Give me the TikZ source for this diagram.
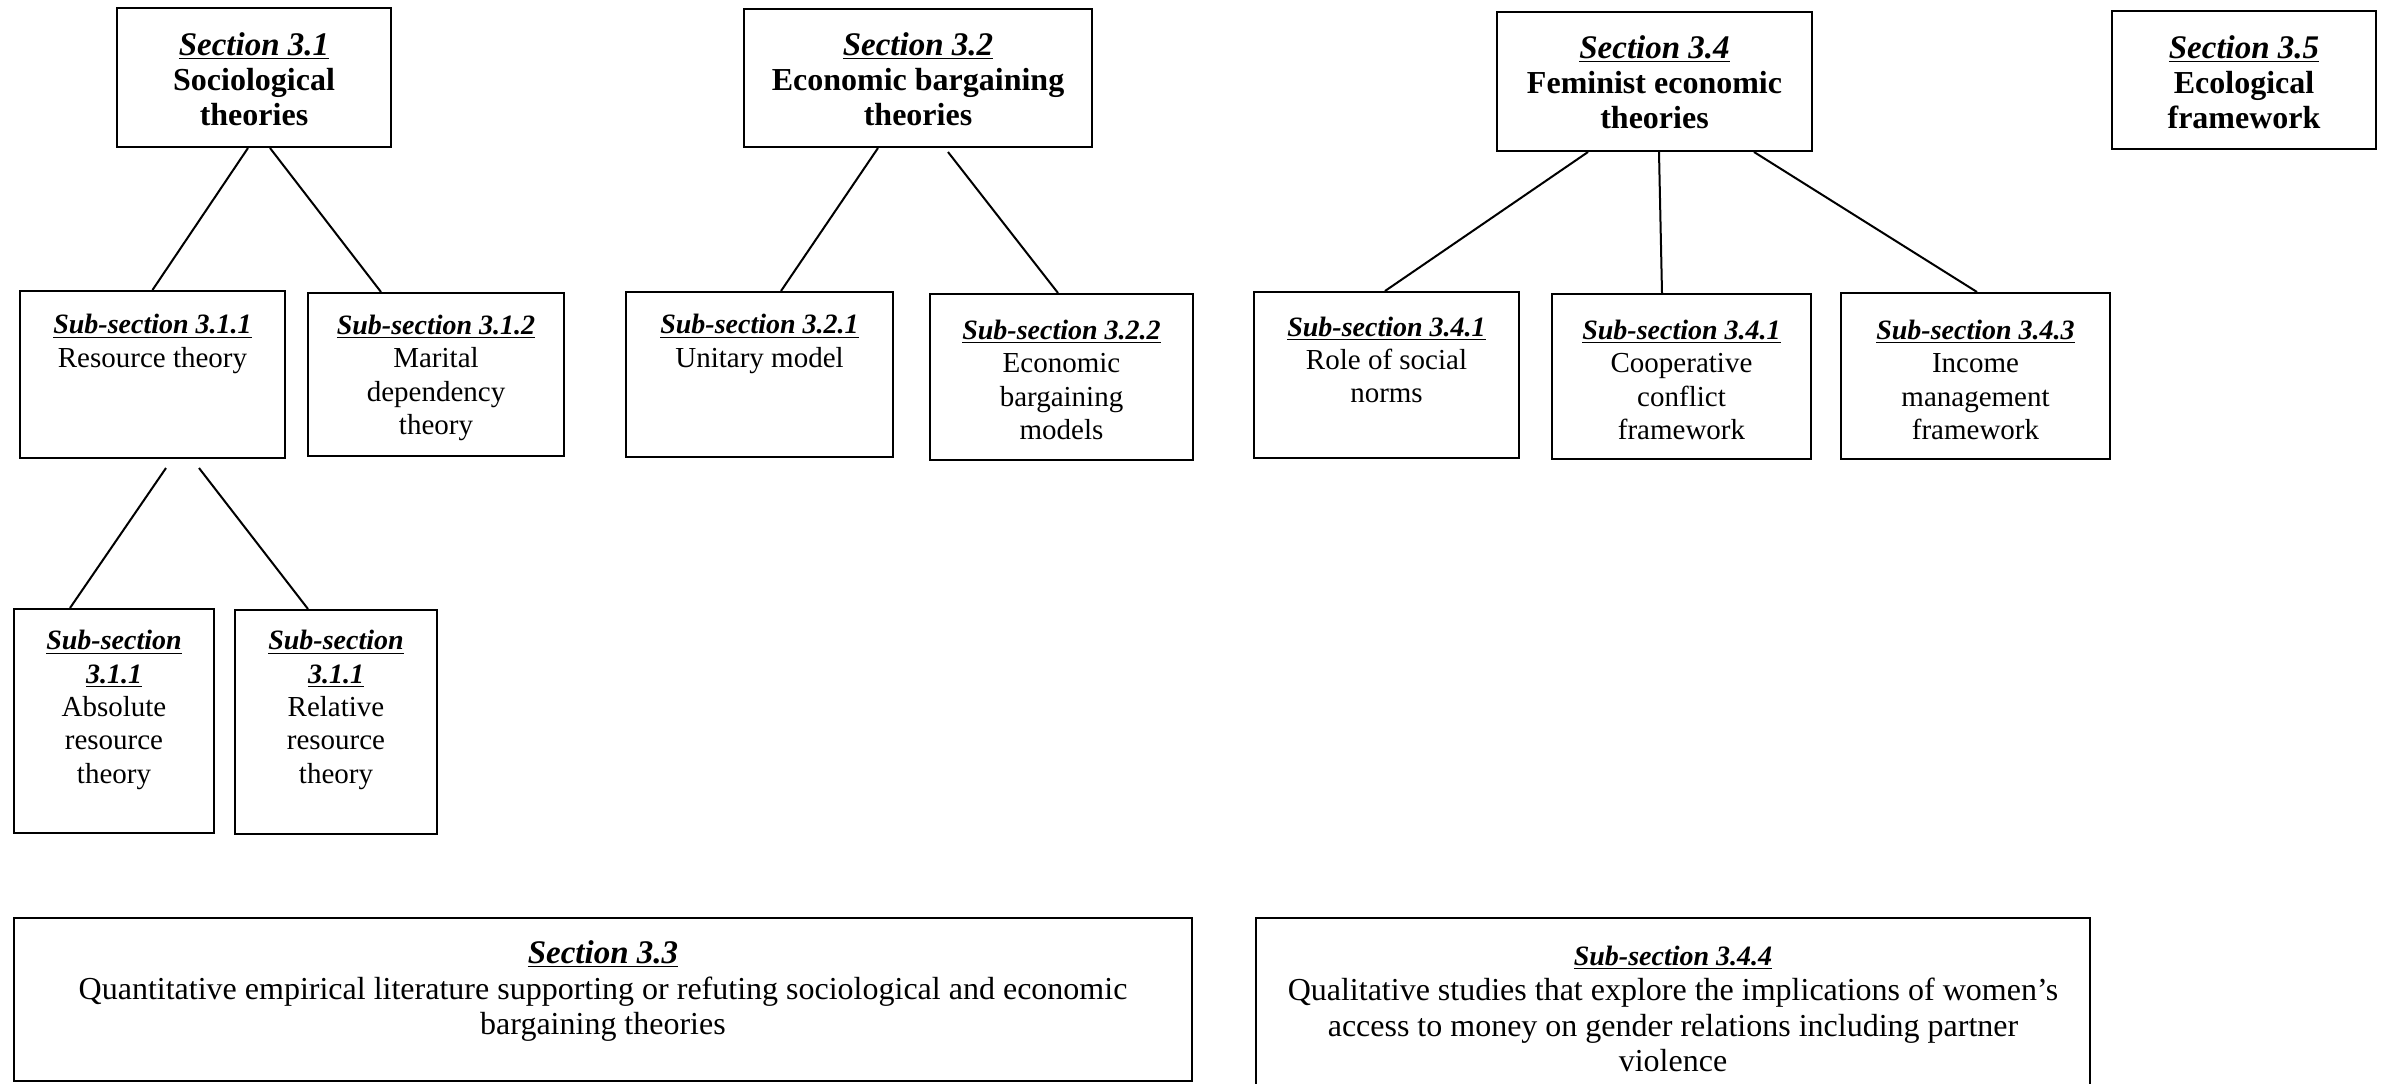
\documentclass[tikz,border=0pt]{standalone}
\usepackage{fontspec}
\setmainfont{Liberation Serif}
\usetikzlibrary{fit,calc}
\newcommand\hd[1]{{\fontsize{14}{16.7}\selectfont\underline{\textbf{\textit{#1}}}}}
\newcommand\shd[1]{{\fontsize{16.5}{17.5}\selectfont\underline{\textbf{\textit{#1}}}}}
\newcommand\tb[1]{{\fontsize{16}{17.5}\selectfont\textbf{#1}}}
\begin{document}
\begin{tikzpicture}[x=0.5pt,y=-0.5pt,
  box/.style={draw, line width=1pt, inner sep=0pt},
  txt/.style={align=center, inner sep=0pt, font=\fontsize{14.5}{17.5}\selectfont},
  subtxt/.style={align=center, inner sep=0pt, font=\fontsize{14.5}{16.7}\selectfont},
  bigtxt/.style={align=center, inner sep=0pt, font=\fontsize{16}{17.7}\selectfont},
  conn/.style={line width=1pt}]
\useasboundingbox (0,0) rectangle (2383,1083);
\fill[white] (0,0) rectangle (2383,1083);
\clip (0,0) rectangle (2383,1083);
% boxes
\node[box, fit={(117,8) (391,147)}] (s31) {};
\node[box, fit={(744,9) (1092,147)}] (s32) {};
\node[box, fit={(1497,12) (1812,151)}] (s34) {};
\node[box, fit={(2112,11) (2376,149)}] (s35) {};
\node[box, fit={(20,291) (285,458)}] (ss311) {};
\node[box, fit={(308,293) (564,456)}] (ss312) {};
\node[box, fit={(626,292) (893,457)}] (ss321) {};
\node[box, fit={(930,294) (1193,460)}] (ss322) {};
\node[box, fit={(1254,292) (1519,458)}] (ss341) {};
\node[box, fit={(1552,294) (1811,459)}] (ss341b) {};
\node[box, fit={(1841,293) (2110,459)}] (ss343) {};
\node[box, fit={(14,609) (214,833)}] (abs) {};
\node[box, fit={(235,610) (437,834)}] (rel) {};
\node[box, fit={(14,918) (1192,1081)}] (s33) {};
\node[box, fit={(1256,918) (2090,1110)}] (ss344) {};
% connectors
\draw[conn] ($(s31.south)+(-6,0)$) -- (ss311.north);
\draw[conn] ($(s31.south)+(16,0)$) -- ($(ss312.north)+(-55,0)$);
\draw[conn] ($(ss311.south)+(13.5,9)$) -- ($(abs.north)+(-44,0)$);
\draw[conn] ($(ss311.south)+(46.5,9)$) -- ($(rel.north)+(-28,0)$);
\draw[conn] ($(s32.south)+(-40,0)$) -- ($(ss321.north)+(21.5,0)$);
\draw[conn] ($(s32.south)+(30,4)$) -- ($(ss322.north)+(-3.5,0)$);
\draw[conn] ($(s34.south)+(-66.5,0)$) -- ($(ss341.north)+(-1.5,0)$);
\draw[conn] ($(s34.south)+(4.5,0)$) -- ($(ss341b.north)+(-19.5,0)$);
\draw[conn] ($(s34.south)+(99.5,0)$) -- ($(ss343.north)+(1.5,0)$);
% texts
\node[txt] (s31t) at (254,79) {\shd{Section 3.1}\\\tb{Sociological}\\\tb{theories}};
\node[txt] (s32t) at (918,79) {\shd{Section 3.2}\\\tb{Economic bargaining}\\\tb{theories}};
\node[txt] (s34t) at (1654.5,82) {\shd{Section 3.4}\\\tb{Feminist economic}\\\tb{theories}};
\node[txt] (s35t) at (2244,82) {\shd{Section 3.5}\\\tb{Ecological}\\\tb{framework}};
\node[subtxt] (ss311t) at (152.5,344) {\hd{Sub-section 3.1.1}\\Resource theory};
\node[subtxt] (ss312t) at (436,378) {\hd{Sub-section 3.1.2}\\Marital\\dependency\\theory};
\node[subtxt] (ss321t) at (759.5,344) {\hd{Sub-section 3.2.1}\\Unitary model};
\node[subtxt] (ss322t) at (1061.5,380) {\hd{Sub-section 3.2.2}\\Economic\\bargaining\\models};
\node[subtxt] (ss341t) at (1386.5,360) {\hd{Sub-section 3.4.1}\\Role of social\\norms};
\node[subtxt] (ss341bt) at (1681.5,380) {\hd{Sub-section 3.4.1}\\Cooperative\\conflict\\framework};
\node[subtxt] (ss343t) at (1975.5,380) {\hd{Sub-section 3.4.3}\\Income\\management\\framework};
\node[subtxt] (abst) at (114,710) {\hd{Sub-section}\\\hd{3.1.1}\\Absolute\\resource\\theory};
\node[subtxt] (relt) at (336,710) {\hd{Sub-section}\\\hd{3.1.1}\\Relative\\resource\\theory};
\node[bigtxt] (s33t) at (603,991) {\shd{Section 3.3}\\Quantitative empirical literature supporting or refuting sociological and economic\\bargaining theories};
\node[bigtxt] (ss344t) at (1673,1009) {\hd{Sub-section 3.4.4}\\Qualitative studies that explore the implications of women’s\\access to money on gender relations including partner\\violence};
\end{tikzpicture}
\end{document}
